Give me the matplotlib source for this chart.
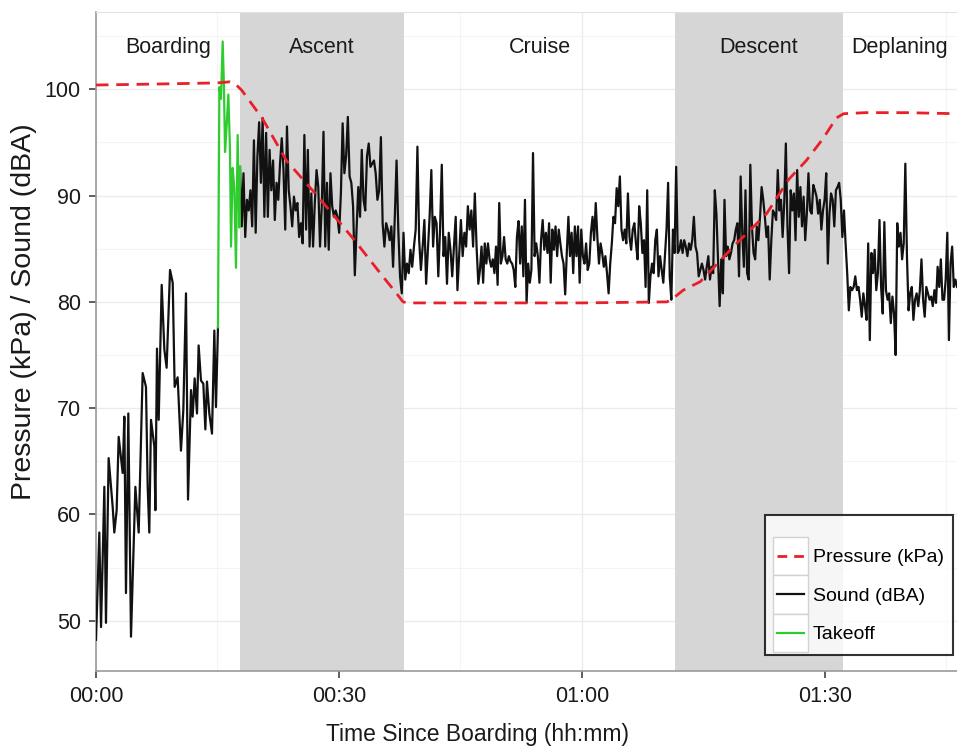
import numpy as np
import matplotlib
matplotlib.use("Agg")
import matplotlib.pyplot as plt
from matplotlib.lines import Line2D
from matplotlib.patches import Rectangle
from matplotlib.legend_handler import HandlerLine2D

plt.rcParams['font.family'] = ['Liberation Sans', 'DejaVu Sans']

# ---------------- data ----------------
phases = ["Boarding", "Ascent", "Cruise", "Descent", "Deplaning"]
phase_edges = [0.0, 17.8, 38.0, 71.5, 92.2, 106.3]
shaded_phases = ["Ascent", "Descent"]

xticks_min = [0, 30, 60, 90]
xtick_labels = ["00:00", "00:30", "01:00", "01:30"]
yticks = [50, 60, 70, 80, 90, 100]

press_t = [0, 8, 15, 16.5, 17.2, 18.0, 20.5, 23.5, 27.4, 31.7, 35.4, 37.1, 37.9, 38.5,
           50, 60, 70.5, 71.2, 72.5, 74.6, 78.7, 82.8, 85.5, 87.7, 89.8, 91.4, 92.3,
           95, 100, 106.3]
press_kpa = [100.4, 100.5, 100.6, 100.7, 100.5, 99.9, 97.3, 93.3, 89.9, 86.0, 82.4, 80.8,
             80.0, 79.9, 79.9, 79.9, 80.0, 80.3, 81.1, 81.9, 85.2, 88.3, 91.5, 93.3, 95.4,
             97.3, 97.7, 97.8, 97.8, 97.7]

board_t = [0, 0.41, 0.62, 0.82, 1.03, 1.23, 1.56, 2.06, 2.26, 2.55, 2.80, 3.29, 3.50, 3.70,
           3.99, 4.32, 4.86, 5.27, 5.76, 6.17, 6.38, 6.58, 6.79, 7.20, 7.33, 7.53, 7.74,
           8.11, 8.44, 8.72, 9.14, 9.47, 9.71, 10.08, 10.49, 10.78, 11.11, 11.36, 11.73,
           11.93, 12.18, 12.47, 12.67, 12.96, 13.25, 13.50, 13.70, 13.99, 14.32, 14.61,
           14.81, 15.06]
board_db = [48.2, 58.3, 49.4, 55.7, 62.6, 49.8, 65.3, 60.7, 58.3, 60.4, 67.3, 63.9, 69.2,
            52.6, 69.5, 48.5, 62.6, 58.3, 73.3, 72.0, 62.6, 58.3, 68.9, 66.4, 60.4, 75.6,
            68.9, 81.6, 75.5, 73.8, 83.0, 81.8, 72.0, 72.9, 66.0, 69.8, 80.8, 61.4, 71.7,
            69.2, 72.8, 69.5, 75.9, 72.6, 72.3, 68.0, 72.5, 69.5, 67.6, 77.3, 70.1, 77.6]

takeoff_t = [15.06, 15.23, 15.43, 15.64, 15.80, 15.93, 16.13, 16.34, 16.54, 16.67, 16.87,
             17.08, 17.28, 17.49, 17.70, 17.78]
takeoff_db = [77.6, 100.2, 99.1, 104.5, 100.2, 94.1, 96.6, 99.5, 94.4, 85.2, 92.6, 90.7,
              83.2, 95.7, 87.0, 92.7]

# in-flight sound, three consecutive stretches sampled evenly
ascent_span = (17.78, 47.2)
ascent_db = [92.7, 87.1, 92.1, 86.1, 89.6, 88.6, 90.5, 87.1, 95.2, 86.5, 93.7, 96.9, 91.2,
             97.3, 88.0, 95.9, 88.0, 94.3, 90.5, 93.3, 87.7, 91.2, 89.6, 93.0, 95.4, 92.4,
             86.8, 96.5, 90.5, 89.0, 87.1, 89.9, 88.6, 89.3, 86.1, 87.4, 85.5, 95.7, 86.8,
             94.3, 85.2, 90.2, 85.2, 89.3, 92.4, 90.8, 85.2, 89.0, 96.0, 85.2, 91.2, 84.9,
             92.1, 89.0, 88.0, 88.6, 88.0, 86.5, 90.2, 96.8, 92.1, 93.7, 97.4, 91.8, 91.2,
             89.0, 82.5, 86.8, 90.8, 88.0, 94.3, 89.6, 88.6, 93.7, 94.9, 92.7, 93.0, 93.3,
             92.1, 89.6, 90.5, 95.5, 87.4, 85.2, 87.4, 86.8, 85.8, 87.1, 83.3, 88.0, 93.3,
             86.8, 82.4, 80.8, 86.5, 82.1, 83.6, 82.7, 84.9, 83.3, 85.2, 86.8, 94.6, 85.8,
             83.0, 85.2, 87.7, 81.7, 84.9, 88.0, 92.4, 85.2, 88.0, 87.4, 82.4, 86.8, 92.9,
             84.3, 86.1, 81.7, 86.5, 84.9, 82.4, 85.2, 88.0, 81.1, 84.3, 87.7, 84.3, 86.5,
             85.2, 89.0, 86.8, 88.6, 85.2, 90.2, 85.2, 81.7]

cruise_span = (47.4, 75.6)
cruise_db = [83.0, 85.2, 81.8, 85.5, 83.6, 85.5, 84.0, 83.3, 84.0, 82.7, 85.2, 81.6, 89.3,
             83.6, 84.3, 86.1, 84.0, 83.6, 84.3, 83.8, 83.6, 83.0, 81.4, 86.1, 87.6, 83.6,
             87.1, 82.4, 89.6, 79.9, 83.6, 81.8, 83.0, 94.0, 84.3, 85.5, 84.3, 81.8, 85.8,
             87.7, 84.9, 86.5, 84.6, 87.4, 81.8, 86.8, 84.9, 87.1, 84.3, 86.8, 85.5, 84.3,
             83.6, 80.7, 84.6, 88.0, 84.3, 86.5, 82.7, 87.1, 84.3, 87.1, 81.8, 86.8, 84.3,
             83.6, 85.5, 83.0, 83.6, 86.5, 88.0, 85.8, 89.3, 86.1, 83.6, 85.5, 84.6, 83.3,
             84.3, 82.7, 80.8, 83.6, 85.5, 88.0, 87.4, 90.7, 89.0, 91.8, 86.8, 85.8, 86.8,
             85.5, 90.2, 86.1, 84.9, 86.8, 87.4, 85.5, 84.0, 89.0, 87.4, 84.6, 85.8, 81.4,
             90.5, 79.9, 82.4, 83.6, 82.7, 85.8, 86.8, 82.4, 84.3, 83.0, 81.8, 84.3, 86.8,
             91.2, 82.4, 80.2, 86.8, 84.6, 92.7, 84.6, 84.9, 85.8, 84.6, 85.8, 85.2, 84.3,
             85.5, 84.9, 85.8, 88.0, 85.2, 84.6, 82.4, 83.0, 83.6, 83.0, 82.1, 83.3, 84.3]

landing_span = (75.8, 106.3)
landing_db = [82.1, 83.3, 82.7, 90.5, 88.3, 84.0, 79.6, 84.0, 80.8, 89.6, 84.3, 85.2, 84.0,
              84.6, 85.5, 85.8, 86.8, 87.4, 82.4, 91.8, 86.5, 83.3, 90.5, 82.7, 82.1, 92.9,
              87.1, 84.6, 84.0, 87.1, 85.8, 88.0, 90.8, 89.6, 88.0, 86.1, 87.1, 82.1, 85.8,
              88.6, 88.3, 87.7, 92.4, 88.6, 89.6, 86.1, 89.3, 94.9, 87.1, 82.7, 90.5, 88.6,
              90.2, 85.8, 92.4, 88.0, 90.8, 87.1, 89.9, 85.8, 88.3, 92.1, 88.6, 88.3, 91.0,
              90.5, 89.9, 88.3, 89.6, 86.8, 88.6, 89.6, 92.1, 83.6, 88.3, 90.2, 89.6, 87.1,
              90.5, 90.8, 91.2, 89.6, 86.1, 88.6, 85.5, 82.7, 79.2, 81.4, 81.1, 81.4, 82.4,
              81.1, 81.4, 80.2, 78.6, 80.8, 79.6, 78.3, 85.5, 76.4, 84.6, 82.7, 84.9, 81.1,
              82.7, 87.7, 81.4, 78.9, 87.5, 81.1, 80.2, 80.8, 78.0, 80.5, 78.9, 75.0, 87.4,
              85.2, 86.5, 84.0, 85.5, 93.0, 84.3, 79.2, 80.8, 81.4, 78.3, 80.2, 80.8, 79.6,
              81.1, 84.0, 80.2, 78.6, 81.4, 80.8, 80.2, 80.5, 79.6, 81.1, 79.9, 83.3, 81.4,
              84.0, 80.2, 80.2, 82.1, 86.5, 76.4, 83.6, 85.2, 81.4, 82.1, 81.4]

# ---------------- figure ----------------
W, H = 957, 747
fig = plt.figure(figsize=(W / 100, H / 100), dpi=100)
L, R, T, B = 96, 957, 12, 671
ax = fig.add_axes([L / W, 1 - B / H, (R - L) / W, (B - T) / H])

ax.set_xlim(0, 106.3)
ax.set_ylim(45.27, 107.27)

ax.set_axisbelow(True)
ax.set_xticks(xticks_min)
ax.set_xticklabels(xtick_labels)
ax.set_yticks(yticks)
ax.set_xticks([15, 45, 75, 105], minor=True)
ax.set_yticks([55, 65, 75, 85, 95, 105], minor=True)
ax.grid(True, which='major', color='#ebebeb', lw=1.0)
ax.grid(True, which='minor', color='#f4f4f4', lw=0.8)
ax.tick_params(which='minor', length=0)
ax.tick_params(which='major', length=5, width=1.1, color='#333333',
               labelsize=15.5, labelcolor='#1a1a1a', pad=6)

ax.spines['right'].set_visible(False)
ax.spines['top'].set_color('#e2e2e2')
ax.spines['top'].set_linewidth(0.8)
for s in ['left', 'bottom']:
    ax.spines[s].set_color('#9a9a9a')
    ax.spines[s].set_linewidth(1.2)

# phase shading and labels
for i, name in enumerate(phases):
    x0, x1 = phase_edges[i], phase_edges[i + 1]
    if name in shaded_phases:
        ax.axvspan(x0, x1, color='#d6d6d6', lw=0, zorder=1)
    ax.text((x0 + x1) / 2, 103.9, name, ha='center', va='center', fontsize=15.5,
            color='#1a1a1a', zorder=5)

flight_t = np.concatenate([np.linspace(*ascent_span, len(ascent_db)),
                           np.linspace(*cruise_span, len(cruise_db)),
                           np.linspace(*landing_span, len(landing_db))])
flight_db = np.concatenate([ascent_db, cruise_db, landing_db])

sound_color = '#111111'
takeoff_color = '#2ecc2e'
press_color = '#e8202a'
press_dash = (0, (4.5, 2.8))

ax.plot(board_t, board_db, color=sound_color, lw=1.6, zorder=3)
ax.plot(flight_t, flight_db, color=sound_color, lw=1.6, zorder=3)
ax.plot(takeoff_t, takeoff_db, color=takeoff_color, lw=1.6, zorder=3.5)
ax.plot(press_t, press_kpa, color=press_color, lw=2.0, ls=press_dash, zorder=4)

# legend with boxed keys
class BoxedLine(HandlerLine2D):
    def create_artists(self, legend, orig_handle, xdescent, ydescent, width, height,
                       fontsize, trans):
        ext = 0.5 * self._box_pad * fontsize
        rect = Rectangle((-xdescent, -ydescent - ext), width, height + 2 * ext,
                         fc='white', ec='#d2d2d2', lw=1.0, transform=trans)
        yc = -ydescent + height / 2
        ln = Line2D([-xdescent + 0.1 * width, -xdescent + 0.9 * width], [yc, yc],
                    color=orig_handle.get_color(), lw=orig_handle.get_linewidth(),
                    transform=trans)
        ls = orig_handle.get_linestyle()
        if ls in ('--', 'dashed'):
            ln.set_dashes((3.5, 2.5))
        return [rect, ln]

SPACING = 0.6
handler = BoxedLine()
handler._box_pad = SPACING

handles = [Line2D([], [], color=press_color, lw=2.0, ls='--'),
           Line2D([], [], color=sound_color, lw=1.6, ls='-'),
           Line2D([], [], color=takeoff_color, lw=1.6, ls='-')]
labels = ["Pressure (kPa)", "Sound (dBA)", "Takeoff"]
leg = ax.legend(handles, labels, loc='lower right', bbox_to_anchor=(0.995, 0.024),
                borderaxespad=0, fontsize=14, frameon=True, fancybox=False,
                handlelength=1.75, handleheight=1.75, labelspacing=SPACING,
                handletextpad=0.28, borderpad=0.45,
                title=" ", title_fontsize=5,
                handler_map={Line2D: handler})
leg.get_frame().set_edgecolor('black')
leg.get_frame().set_linewidth(1.5)
leg.set_zorder(10)

fig.text(477 / W, 1 - 735 / H, "Time Since Boarding (hh:mm)", ha='center', va='center',
         fontsize=16.5, color='#1a1a1a')
fig.text(24 / W, 1 - 312 / H, "Pressure (kPa) / Sound (dBA)", ha='center', va='center',
         rotation=90, fontsize=20.5, color='#1a1a1a')

fig.savefig("out.png", dpi=100)
